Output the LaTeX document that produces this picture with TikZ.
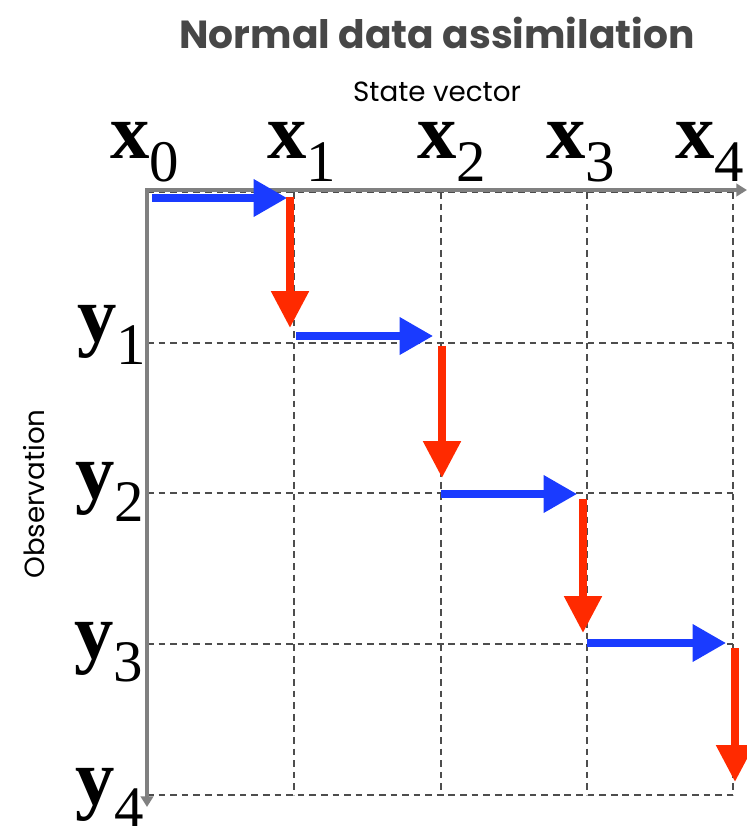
\documentclass[tikz,border=0pt]{standalone}
\usepackage{fontspec}
\setmainfont{Liberation Serif}
\newfontfamily\headfont{Poppins}
\usetikzlibrary{arrows.meta}
\definecolor{cblue}{HTML}{1A3BFF}
\definecolor{cred}{HTML}{FF2A00}
\definecolor{caxis}{HTML}{808080}
\definecolor{cgrid}{HTML}{4D4D4D}
\definecolor{ctitle}{HTML}{474747}
\tikzset{
  every picture/.style={x=0.02cm, y=-0.02cm},
  axis/.style={draw=caxis, line width=2.3pt, line cap=rect, -{Triangle[length=6pt, width=7pt]}},
  gridline/.style={draw=cgrid, line width=1.3pt, dash pattern=on 3.8pt off 2.8pt},
  forecast/.style={draw=cblue, line width=4pt, -{Triangle[length=19pt, width=20.5pt]}},
  analysis/.style={draw=cred, line width=4.6pt, -{Triangle[length=21pt, width=20.5pt]}},
  varlabel/.style={anchor=base west, inner sep=0pt, font=\fontsize{44.8}{50}\selectfont},
  title/.style={font=\headfont\bfseries\fontsize{22.3}{26}\selectfont, text=ctitle},
  axname/.style={font=\headfont\fontsize{15.8}{18}\selectfont},
}
\newcommand{\vlab}[2]{\textbf{#1}{\fontsize{33.5}{36}\selectfont\raisebox{-13.6pt}{#2}}}

\begin{document}
\begin{tikzpicture}
  \useasboundingbox (0,0) rectangle (747,826);
  \node[title] (title) at (437,33) {Normal data assimilation};
  \node[axname] (state) at (437,92) {State vector};
  \node[axname, rotate=90] (obs) at (34,494) {Observation};

  % grid corners
  \coordinate (o) at (147,190);
  \coordinate (xend) at (747,190);
  \coordinate (yend) at (147,807);
  \foreach \i/\cx in {0/147, 1/294, 2/441, 3/587, 4/733} \coordinate (c\i) at (\cx,192);
  \foreach \i/\ry in {0/192, 1/343, 2/493, 3/644, 4/795} \coordinate (r\i) at (147,\ry);

  % dashed grid
  \foreach \i in {0,...,4} \draw[gridline] (r\i) -- (r\i -| c4);
  \foreach \i in {1,...,4} \draw[gridline] (c\i) -- (c\i |- r4);

  % axes
  \draw[axis] (o) -- (xend);
  \draw[axis] (o) -- (yend);

  % state and observation labels
  \node[varlabel] (x0) at (110,158) {\vlab{x}{0}};
  \node[varlabel] (x1) at (267,158) {\vlab{x}{1}};
  \node[varlabel] (x2) at (417,158) {\vlab{x}{2}};
  \node[varlabel] (x3) at (546,158) {\vlab{x}{3}};
  \node[varlabel] (x4) at (675,158) {\vlab{x}{4}};
  \node[varlabel] (y1) at (77,341) {\vlab{y}{1}};
  \node[varlabel] (y2) at (75,498) {\vlab{y}{2}};
  \node[varlabel] (y3) at (74,658) {\vlab{y}{3}};
  \node[varlabel] (y4) at (75,804) {\vlab{y}{4}};

  % staircase: forecast (blue) then analysis (red)
  \foreach \i/\xa/\xb/\yb/\xr/\ya/\yc in {0/152/287/198/290/197/328, 1/296/433/336/442/346/478,
      2/441/577/494/583/499/633, 3/587/726/643/735/648/782} {
    \coordinate (fs\i) at (\xa,\yb);
    \coordinate (fe\i) at (\xb,\yb);
    \coordinate (as\i) at (\xr,\ya);
    \coordinate (ae\i) at (\xr,\yc);
  }
  \foreach \i in {0,...,3} \draw[forecast] (fs\i) -- (fe\i);
  \foreach \i in {0,...,3} \draw[analysis] (as\i) -- (ae\i);
\end{tikzpicture}
\end{document}
